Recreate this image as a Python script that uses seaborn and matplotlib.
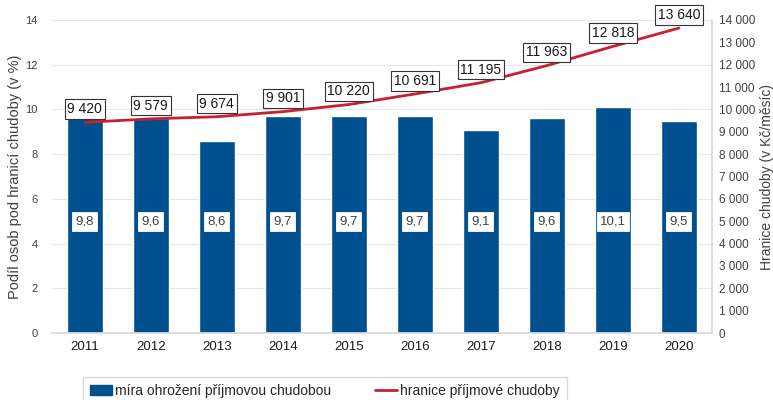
import numpy as np
import pandas as pd
import seaborn as sns
import matplotlib
matplotlib.use("Agg")
import matplotlib.pyplot as plt
from matplotlib.patches import Patch
from matplotlib.lines import Line2D

years = ["2011", "2012", "2013", "2014", "2015", "2016", "2017", "2018", "2019", "2020"]
rate = [9.8, 9.6, 8.6, 9.7, 9.7, 9.7, 9.1, 9.6, 10.1, 9.5]
threshold = [9420, 9579, 9674, 9901, 10220, 10691, 11195, 11963, 12818, 13640]

BAR = "#00508f"
LINE = "#c8202f"
GREY = "#404040"


def cz(v, dec=0):
    # czech number format: space as thousands sep, comma as decimal
    return f"{v:,.{dec}f}".replace(",", " ").replace(".", ",")


sns.set_theme(style="white")
plt.rcParams["font.family"] = ["Liberation Sans", "DejaVu Sans"]

fig = plt.figure(figsize=(7.73, 4.0), dpi=100)
ax = fig.add_axes([0.067, 0.1675, 0.854, 0.7825])

df = pd.DataFrame({"rok": years, "mira": rate})
sns.barplot(data=df, x="rok", y="mira", color=BAR, width=0.55, saturation=1, ax=ax)
ax.set_ylim(0, 14)
ax.set_yticks(np.arange(0, 15, 2))
ax.set_xlim(-0.5, len(years) - 0.5)
ax.yaxis.grid(True, color="#e6e6e6", linewidth=0.8)
ax.set_axisbelow(True)
for s in ["top", "right", "left"]:
    ax.spines[s].set_visible(False)
ax.spines["bottom"].set_color("#d9d9d9")
ax.set_xlabel("")
ax.set_ylabel("Podíl osob pod hranicí chudoby (v %)", fontsize=10.5, color=GREY)
ax.yaxis.set_label_coords(-0.045, 0.5)
ax.tick_params(axis="y", labelsize=8, colors=GREY, length=0, pad=10)
ax.tick_params(axis="x", labelsize=9.5, colors="#1a1a1a", length=0, pad=6)
ax.set_xticks(np.arange(len(years)))
ax.set_xticks(np.arange(-0.5, len(years), 1), minor=True)
ax.tick_params(axis="x", which="minor", length=4, color="#d9d9d9")

for i, v in enumerate(rate):
    ax.text(i, 5, cz(v, 1), ha="center", va="center", fontsize=9.5, color=GREY,
            bbox=dict(boxstyle="square,pad=0.25", fc="white", ec="white", lw=0.6))

ax2 = ax.twinx()
sns.lineplot(x=np.arange(len(years)), y=threshold, color=LINE, linewidth=2, ax=ax2)
ax2.set_ylim(0, 14000)
ax2.set_yticks(np.arange(0, 14001, 1000))
ax2.set_yticklabels([cz(t) for t in np.arange(0, 14001, 1000)])
for s in ["top", "left", "bottom"]:
    ax2.spines[s].set_visible(False)
ax2.spines["right"].set_color("#d9d9d9")
ax2.tick_params(axis="y", labelsize=8.5, colors=GREY, length=0, pad=5)
ax2.set_ylabel("Hranice chudoby (v Kč/měsíc)", fontsize=10, color=GREY)
ax2.yaxis.set_label_position("right")
ax2.yaxis.set_label_coords(1.073, 0.5)

for i, v in enumerate(threshold):
    ax2.annotate(cz(v), (i, v), xytext=(0, 9.5), textcoords="offset points",
                 ha="center", va="center", fontsize=10, color="#1a1a1a",
                 bbox=dict(boxstyle="square,pad=0.2", fc="white", ec="#333333", lw=0.8))

handles = [Patch(facecolor=BAR, edgecolor=BAR),
           Line2D([0], [0], color=LINE, linewidth=2)]
labels = ["míra ohrožení příjmovou chudobou", "hranice příjmové chudoby"]
fig.legend(handles, labels, loc="lower center", bbox_to_anchor=(0.42, -0.03), ncol=2,
           fontsize=10, frameon=True, fancybox=False, edgecolor="#d0d0d0",
           handlelength=1.6, handletextpad=0.2, columnspacing=3.2, borderpad=0.5)

fig.savefig("out.png", dpi=100)
